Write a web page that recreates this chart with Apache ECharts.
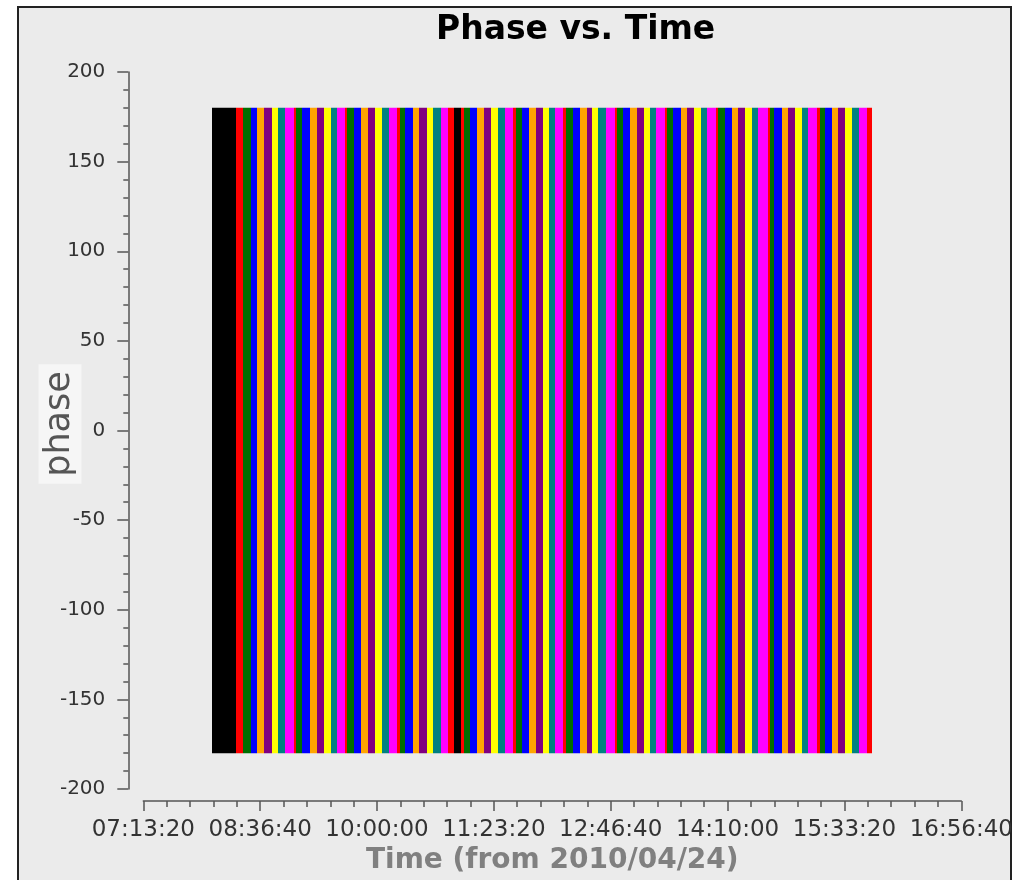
<!DOCTYPE html>
<html>
<head>
<meta charset="utf-8">
<style>
html,body{margin:0;padding:0;background:#ffffff;overflow:hidden;}
#chart{width:1029px;height:880px;}
</style>
<script src="https://cdn.jsdelivr.net/npm/echarts@6/dist/echarts.min.js"></script>
</head>
<body>
<div id="chart"></div>
<script>
// ---- data ----
// Scan edges in seconds since 00:00 on 2010/04/24; band i spans scanEdges[i]..scanEdges[i+1]
var scanEdges = [
  28930, 29970, 30270, 30610, 30870, 31160, 31510, 31760, 32060, 32450,
  32530, 32790, 33130, 33430, 33730, 34030, 34290, 34630, 34720, 35020,
  35320, 35610, 35910, 36210, 36510, 36860, 36980, 37200, 37540, 37800,
  38140, 38400, 38740, 39040, 39290, 39590, 39720, 39980, 40280, 40580,
  40880, 41180, 41480, 41820, 41950, 42200, 42500, 42800, 43100, 43360,
  43620, 43960, 44090, 44390, 44690, 44990, 45200, 45460, 45800, 46180,
  46270, 46530, 46830, 47120, 47420, 47680, 47940, 48320, 48410, 48670,
  49010, 49260, 49560, 49860, 50120, 50510, 50590, 50890, 51190, 51450,
  51750, 52050, 52300, 52730, 52820, 52990, 53330, 53590, 53890, 54180,
  54440, 54830, 54950, 55170, 55470, 55720, 56020, 56320, 56620, 56970,
  57180
];
// colour group of each scan band
var scanColor = [
  'black','red','green','blue','orange','purple','yellow','teal','magenta',
  'red','green','blue','orange','purple','yellow','teal','magenta',
  'red','green','blue','orange','purple','yellow','teal','magenta',
  'red','green','blue','orange','purple','yellow','teal','magenta',
  'red','black',
  'red','green','blue','orange','purple','yellow','teal','magenta',
  'red','green','blue','orange','purple','yellow','teal','magenta',
  'red','green','blue','orange','purple','yellow','teal','magenta',
  'red','green','blue','orange','purple','yellow','teal','magenta',
  'red','green','blue','orange','purple','yellow','teal','magenta',
  'red','green','blue','orange','purple','yellow','teal','magenta',
  'red','green','blue','orange','purple','yellow','teal','magenta',
  'red','green','blue','orange','purple','yellow','teal','magenta',
  'red'
];
var phaseLow = -180, phaseHigh = 180;
var yTicks = [-200, -150, -100, -50, 0, 50, 100, 150, 200];
var xTickTimes = ['07:13:20','08:36:40','10:00:00','11:23:20','12:46:40','14:10:00','15:33:20','16:56:40'];

var palette = {
  black:'#000000', red:'#ff0000', green:'#006e00', blue:'#0000ff', orange:'#ffa500',
  purple:'#800080', yellow:'#ffff00', teal:'#008080', magenta:'#ff00ff'
};

function toSec(s){ var p = s.split(':'); return (+p[0])*3600 + (+p[1])*60 + (+p[2]); }
function pad(n){ return (n < 10 ? '0' : '') + n; }
function fmt(v){ v = Math.round(v); return pad(Math.floor(v/3600)) + ':' + pad(Math.floor(v%3600/60)) + ':' + pad(v%60); }

var bands = [];
for (var i = 0; i < scanColor.length; i++) {
  bands.push([scanEdges[i], scanEdges[i+1], phaseLow, phaseHigh, scanColor[i]]);
}
var xMin = toSec(xTickTimes[0]), xMax = toSec(xTickTimes[xTickTimes.length-1]);
var xStep = toSec(xTickTimes[1]) - xMin;

var chart = echarts.init(document.getElementById('chart'), null, {renderer:'canvas', width:1029, height:880});
var FONT = "'DejaVu Sans', sans-serif";
chart.setOption({
  backgroundColor: '#ffffff',
  animation: false,
  graphic: [
    { type:'rect', z:-10, shape:{x:18, y:7, width:993, height:890},
      style:{fill:'#ebebeb', stroke:'#222222', lineWidth:2} },
    { type:'text', x:60, y:424, rotation:Math.PI/2, z:5,
      style:{text:'phase', fontFamily:FONT, fontSize:35, fill:'#555555', align:'center', verticalAlign:'middle',
             backgroundColor:'#f6f6f6', padding:[3,7,5,7]} }
  ],
  title: {
    text: 'Phase vs. Time', left: 431, top: 9,
    textStyle: {fontFamily: FONT, fontWeight:'bold', fontSize: 33, color:'#000000'}
  },
  grid: {left: 143.3, width: 818, top: 72, height: 726, containLabel:false},
  xAxis: {
    type:'value', min:xMin, max:xMax, interval:xStep, offset:12,
    axisLine:{show:true, onZero:false, lineStyle:{color:'#555555', width:1.5}},
    axisTick:{show:true, length:10, lineStyle:{color:'#555555', width:1.5}},
    minorTick:{show:true, splitNumber:5, length:6, lineStyle:{color:'#555555', width:1.5}},
    splitLine:{show:false},
    axisLabel:{fontFamily:FONT, fontSize:23, color:'#333333', margin:18, formatter: fmt},
    name:'Time (from 2010/04/24)', nameLocation:'middle', nameGap:46, nameMoveOverlap:false,
    nameTextStyle:{fontFamily:FONT, fontWeight:'bold', fontSize:28, color:'#808080'}
  },
  yAxis: {
    type:'value', min:yTicks[0], max:yTicks[yTicks.length-1], interval:yTicks[1]-yTicks[0], offset:15,
    axisLine:{show:true, onZero:false, lineStyle:{color:'#555555', width:1.5}},
    axisTick:{show:true, length:11, lineStyle:{color:'#555555', width:1.5}},
    minorTick:{show:true, splitNumber:5, length:5, lineStyle:{color:'#555555', width:1.5}},
    splitLine:{show:false},
    axisLabel:{fontFamily:FONT, fontSize:20, color:'#333333', margin:23}
  },
  series: [{
    type:'custom',
    data: bands,
    encode:{x:[0,1], y:[2,3]},
    renderItem: function(params, api){
      var p0 = api.coord([api.value(0), api.value(3)]);
      var p1 = api.coord([api.value(1), api.value(2)]);
      var x0 = Math.round(p0[0]), x1 = Math.round(p1[0]);
      return {
        type:'rect',
        shape:{x:x0, y:p0[1], width:Math.max(1, x1 - x0), height:p1[1]-p0[1]},
        style:{fill: palette[bands[params.dataIndex][4]]}
      };
    }
  }]
});
</script>
</body>
</html>
